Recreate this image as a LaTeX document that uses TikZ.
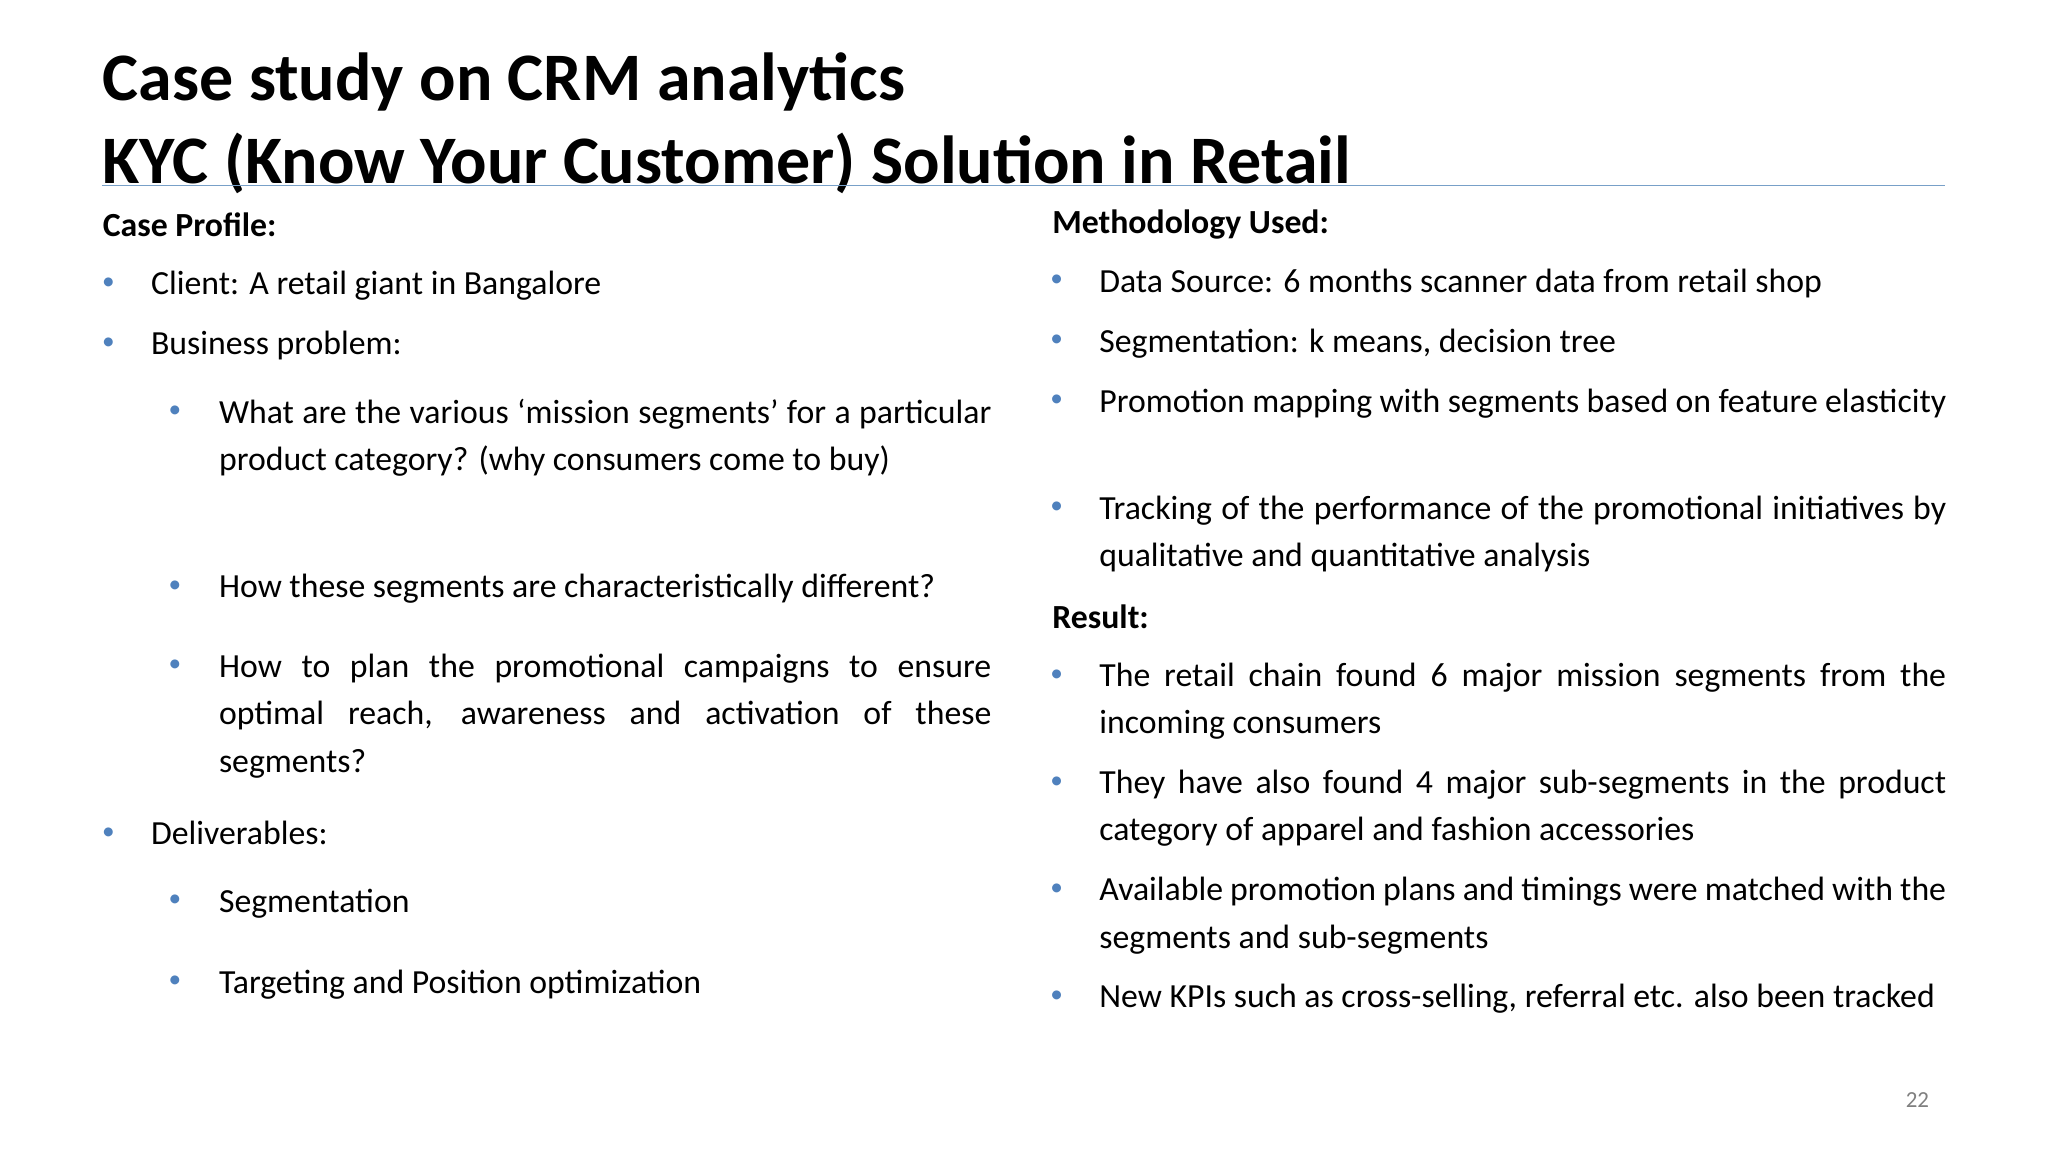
\documentclass[tikz,border=0pt]{standalone}
\usepackage{fontspec}
\setmainfont{Carlito}
\hyphenpenalty=10000
\tolerance=9999
\definecolor{bul}{RGB}{79,129,189}
\definecolor{rule}{RGB}{120,160,200}
\begin{document}
\begin{tikzpicture}[x=0.01cm,y=-0.01cm,
  body/.style={anchor=north west,inner sep=0pt,font=\fontsize{7.35}{10.3}\selectfont},
  lpar/.style={body,text width=5.91cm,align=justify},
  rpar/.style={body,text width=6.48cm,align=justify},
  hd/.style={body,font=\fontsize{7.35}{10.3}\selectfont\bfseries},
  ttl/.style={anchor=north west,inner sep=0pt,font=\fontsize{14.8}{17.6}\selectfont\bfseries},
  dot/.style={anchor=center,inner sep=0pt,text=bul,font=\fontsize{5.5}{6}\selectfont}]
\useasboundingbox[fill=white] (0,0) rectangle (1568,882);
\node[ttl] (t1) at (78,40) {Case study on CRM analytics};
\node[ttl] (t2) at (78,101) {KYC (Know Your Customer) Solution in Retail};
\draw[rule,line width=0.4pt] (78,142) -- (1489,142);
% left
\node[hd] (cp) at (78,162) {Case Profile:};
\node[dot] (b1) at (83,217) {•}; \node[body] (l1) at (115,207) {Client: A retail giant in Bangalore};
\node[dot] (b2) at (83,263) {•}; \node[body] (l2) at (115,253) {Business problem:};
\node[dot] (b3) at (134,315) {•}; \node[lpar] (l3) at (167,305) {What are the various ‘mission segments’ for a particular product category? (why consumers come to buy)};
\node[dot] (b4) at (134,449) {•}; \node[body] (l4) at (167,439) {How these segments are characteristically different?};
\node[dot] (b5) at (134,510) {•}; \node[lpar] (l5) at (167,500) {How to plan the promotional campaigns to ensure optimal reach, awareness and activation of these segments?};
\node[dot] (b6) at (83,638) {•}; \node[body] (l6) at (115,628) {Deliverables:};
\node[dot] (b7) at (134,690) {•}; \node[body] (l7) at (167,680) {Segmentation};
\node[dot] (b8) at (134,752) {•}; \node[body] (l8) at (167,742) {Targeting and Position optimization};
% right
\node[hd] (mu) at (805,160) {Methodology Used:};
\node[dot] (r1b) at (809,215) {•}; \node[rpar] (r1) at (841,205) {Data Source: 6 months scanner data from retail shop};
\node[dot] (r2b) at (809,261) {•}; \node[rpar] (r2) at (841,251) {Segmentation: k means, decision tree};
\node[dot] (r3b) at (809,307) {•}; \node[rpar] (r3) at (841,297) {Promotion mapping with segments based on feature elasticity};
\node[dot] (r4b) at (809,389) {•}; \node[rpar] (r4) at (841,379) {Tracking of the performance of the promotional initiatives by qualitative and quantitative analysis};
\node[hd] (rs) at (805,462) {Result:};
\node[dot] (r5b) at (809,517) {•}; \node[rpar] (r5) at (841,507) {The retail chain found 6 major mission segments from the incoming consumers};
\node[dot] (r6b) at (809,599) {•}; \node[rpar] (r6) at (841,589) {They have also found 4 major sub-segments in the product category of apparel and fashion accessories};
\node[dot] (r7b) at (809,681) {•}; \node[rpar] (r7) at (841,671) {Available promotion plans and timings were matched with the segments and sub-segments};
\node[dot] (r8b) at (809,763) {•}; \node[body] (r8) at (841,753) {New KPIs such as cross-selling, referral etc. also been tracked};
\node[anchor=center,inner sep=0pt,text=gray,font=\fontsize{5}{5}\selectfont] (pg) at (1468,842) {22};
\end{tikzpicture}
\end{document}
